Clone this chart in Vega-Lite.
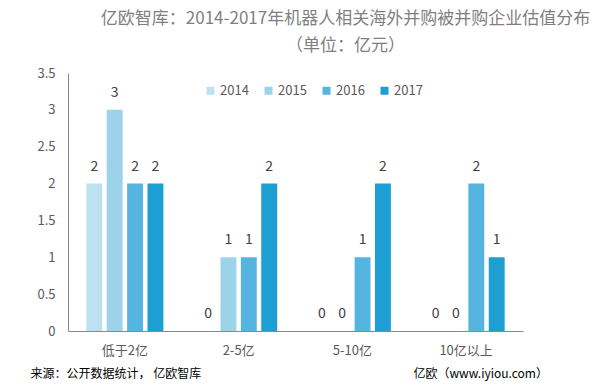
{
  "$schema": "https://vega.github.io/schema/vega-lite/v6.json",
  "width": 455,
  "height": 258,
  "autosize": {"type": "none"},
  "padding": {"left": 68, "top": 73, "right": 79, "bottom": 58},
  "background": "white",
  "config": {
    "font": "Noto Sans CJK SC",
    "view": {"stroke": null}
  },
  "title": {
    "text": "亿欧智库：2014-2017年机器人相关海外并购被并购企业估值分布",
    "subtitle": "（单位：亿元）",
    "anchor": "middle",
    "frame": "group",
    "dx": 50,
    "offset": 12,
    "fontSize": 17,
    "subtitleFontSize": 17,
    "fontWeight": "normal",
    "color": "#7F7F7F",
    "subtitleColor": "#7F7F7F",
    "subtitlePadding": 10,
    "font": "Noto Sans CJK SC",
    "subtitleFont": "Noto Sans CJK SC"
  },
  "data": {
    "values": [
      {"cat": "低于2亿", "year": "2014", "value": 2},
      {"cat": "低于2亿", "year": "2015", "value": 3},
      {"cat": "低于2亿", "year": "2016", "value": 2},
      {"cat": "低于2亿", "year": "2017", "value": 2},
      {"cat": "2-5亿", "year": "2014", "value": 0},
      {"cat": "2-5亿", "year": "2015", "value": 1},
      {"cat": "2-5亿", "year": "2016", "value": 1},
      {"cat": "2-5亿", "year": "2017", "value": 2},
      {"cat": "5-10亿", "year": "2014", "value": 0},
      {"cat": "5-10亿", "year": "2015", "value": 0},
      {"cat": "5-10亿", "year": "2016", "value": 1},
      {"cat": "5-10亿", "year": "2017", "value": 2},
      {"cat": "10亿以上", "year": "2014", "value": 0},
      {"cat": "10亿以上", "year": "2015", "value": 0},
      {"cat": "10亿以上", "year": "2016", "value": 2},
      {"cat": "10亿以上", "year": "2017", "value": 1}
    ]
  },
  "encoding": {
    "x": {
      "field": "cat",
      "type": "nominal",
      "sort": ["低于2亿", "2-5亿", "5-10亿", "10亿以上"],
      "scale": {"paddingInner": 0, "paddingOuter": 0},
      "axis": {
        "title": "亿欧（www.iyiou.com）",
        "titleX": 345,
        "titleY": 42,
        "titleAlign": "left",
        "titleBaseline": "middle",
        "titleFontSize": 12,
        "titleFontWeight": "normal",
        "titleColor": "#000000",
        "labelAngle": 0,
        "labelFontSize": 13,
        "labelColor": "#595959",
        "labelPadding": 13,
        "ticks": false,
        "domainColor": "#898989",
        "domainWidth": 1
      }
    },
    "xOffset": {
      "field": "year",
      "type": "nominal",
      "scale": {"paddingInner": 0.22, "paddingOuter": 0.9}
    },
    "y": {
      "field": "value",
      "type": "quantitative",
      "scale": {"domain": [0, 3.5]},
      "axis": {
        "title": "来源：公开数据统计， 亿欧智库",
        "titleAngle": 0,
        "titleX": -38,
        "titleY": 300,
        "titleAlign": "left",
        "titleBaseline": "middle",
        "titleFontSize": 12,
        "titleFontWeight": "normal",
        "titleColor": "#000000",
        "values": [0, 0.5, 1, 1.5, 2, 2.5, 3, 3.5],
        "format": ".1~f",
        "grid": false,
        "ticks": false,
        "labelFontSize": 13,
        "labelColor": "#595959",
        "labelPadding": 13,
        "domainColor": "#898989",
        "domainWidth": 1
      }
    }
  },
  "layer": [
    {
      "mark": {"type": "bar"},
      "encoding": {
        "color": {
          "field": "year",
          "type": "nominal",
          "scale": {
            "domain": ["2014", "2015", "2016", "2017"],
            "range": ["#BDE1F0", "#9DD3E8", "#55B5E0", "#1E9FD3"]
          },
          "legend": {
            "title": null,
            "orient": "none",
            "direction": "horizontal",
            "legendX": 136,
            "legendY": 11,
            "symbolType": "square",
            "symbolSize": 64,
            "symbolStrokeWidth": 0,
            "labelFontSize": 13,
            "labelColor": "#595959",
            "labelOffset": 3,
            "columnPadding": 13
          }
        }
      }
    },
    {
      "mark": {"type": "text", "baseline": "middle", "dy": -17, "fontSize": 14, "color": "#404040"},
      "encoding": {
        "text": {"field": "value", "type": "quantitative"}
      }
    }
  ]
}
